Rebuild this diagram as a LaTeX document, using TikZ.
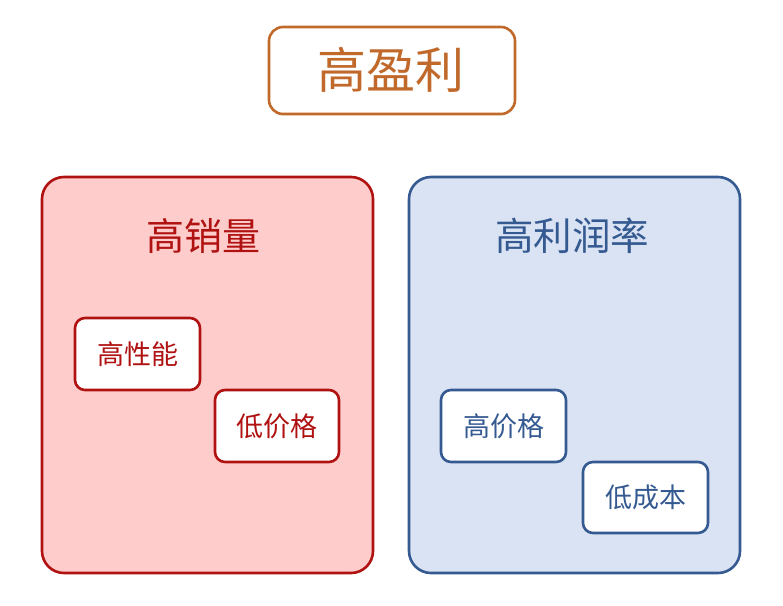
\documentclass[tikz,border=0pt]{standalone}
\usepackage{fontspec}
\setmainfont{Noto Sans CJK SC}
\newfontfamily\cjk{Noto Sans CJK SC}
\definecolor{orng}{HTML}{C0692A}
\definecolor{redb}{HTML}{B01212}
\definecolor{redf}{HTML}{FFCCCC}
\definecolor{blub}{HTML}{355A91}
\definecolor{bluf}{HTML}{DAE3F3}
\begin{document}
\begin{tikzpicture}[x=1pt,y=-1pt,
  topbox/.style={draw=orng,line width=2.6pt,rounded corners=14pt,fill=white},
  redbox/.style={draw=redb,line width=2.6pt,rounded corners=22pt,fill=redf},
  blubox/.style={draw=blub,line width=2.6pt,rounded corners=22pt,fill=bluf},
  redin/.style={draw=redb,line width=2.6pt,rounded corners=10pt,fill=white},
  bluin/.style={draw=blub,line width=2.6pt,rounded corners=10pt,fill=white},
  lbl/.style={font=\cjk\fontsize{#1}{#1}\selectfont,inner sep=0pt}]
\useasboundingbox (0,0) rectangle (783,605);
\fill[white] (0,0) rectangle (783,605);
% top
\draw[topbox] (269,27) rectangle (515,114);
\node[lbl=49, text=orng] (top) at (391,70) {高盈利};
% red
\draw[redbox] (42,177) rectangle (373,573);
\node[lbl=38, text=redb] (redt) at (203,236) {高销量};
\draw[redin] (75,318) rectangle (200,390);
\node[lbl=27, text=redb] (a1) at (137.5,354) {高性能};
\draw[redin] (215,390) rectangle (339,462);
\node[lbl=27, text=redb] (a2) at (277,426) {低价格};
% blue
\draw[blubox] (409,177) rectangle (740,573);
\node[lbl=38.5, text=blub] (blut) at (572,236) {高利润率};
\draw[bluin] (441,390) rectangle (566,462);
\node[lbl=27, text=blub] (b1) at (503.5,426) {高价格};
\draw[bluin] (583,462) rectangle (708,533);
\node[lbl=27, text=blub] (b2) at (645.5,497.5) {低成本};
\end{tikzpicture}
\end{document}
